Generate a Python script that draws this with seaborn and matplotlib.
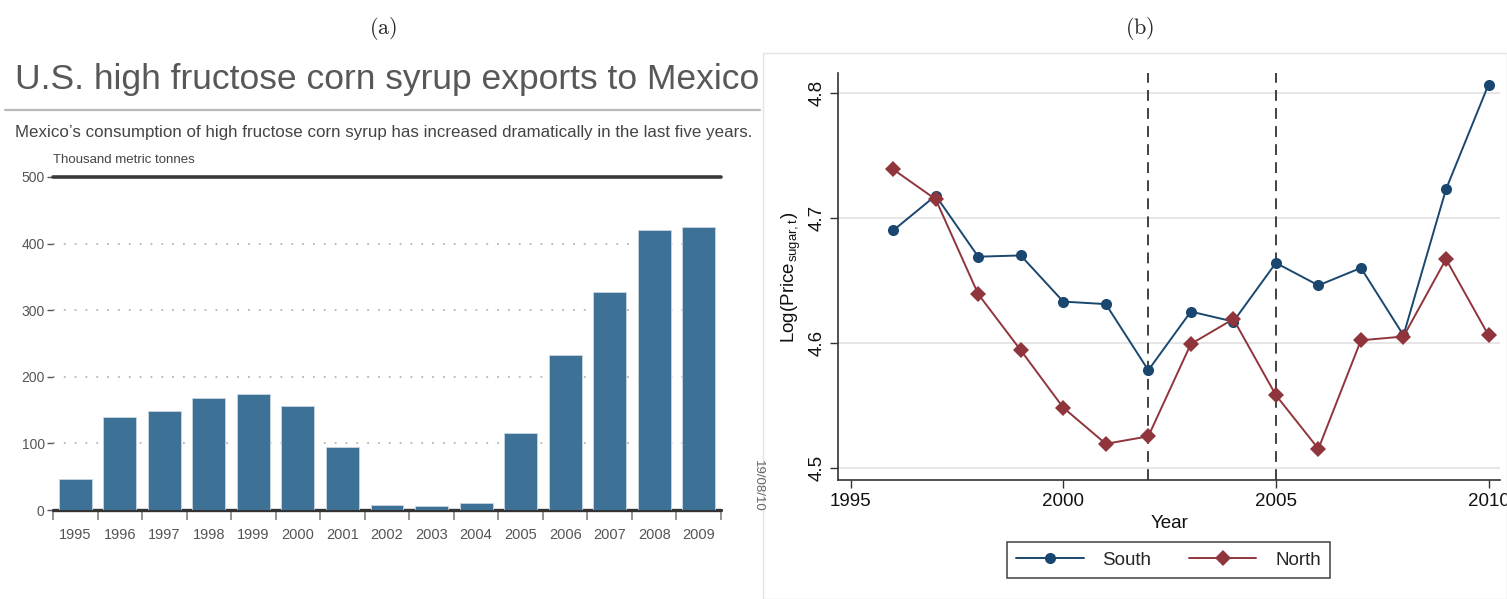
import matplotlib
matplotlib.use("Agg")
import matplotlib.pyplot as plt
import seaborn as sns
import pandas as pd
from matplotlib.patches import Rectangle

# ---- data -------------------------------------------------------------
export_years = ["1995", "1996", "1997", "1998", "1999", "2000", "2001", "2002",
                "2003", "2004", "2005", "2006", "2007", "2008", "2009"]
hfcs_exports = [46, 140, 148, 168, 174, 156, 95, 8, 6, 10, 116, 233, 328, 421, 425]
export_yticks = [0, 100, 200, 300, 400, 500]

price_years = list(range(1996, 2011))
south_price = [4.690, 4.718, 4.669, 4.670, 4.633, 4.631, 4.578, 4.625, 4.617,
               4.664, 4.646, 4.660, 4.606, 4.723, 4.807]
north_price = [4.739, 4.715, 4.639, 4.594, 4.548, 4.519, 4.525, 4.599, 4.619,
               4.558, 4.515, 4.602, 4.605, 4.667, 4.606]
event_years = [2002, 2005]
price_xticks = [1995, 2000, 2005, 2010]
price_yticks = [4.5, 4.6, 4.7, 4.8]

# ---- style ------------------------------------------------------------
sns.set_theme(style="white")
plt.rcParams["font.family"] = ["Liberation Sans", "DejaVu Sans"]
plt.rcParams["mathtext.fontset"] = "cm"

W, H = 1507, 599
fig = plt.figure(figsize=(W / 100, H / 100), dpi=100)


def fx(px):
    return px / W


def fy(py):
    return 1 - py / H


sans = ["Liberation Sans", "DejaVu Sans"]
grey_txt = "#555555"

# ---- panel (a): bar chart ----------------------------------------------
ax1 = fig.add_axes([fx(53), fy(510), fx(721) - fx(53), fy(177) - fy(510)])
bars = pd.DataFrame({"year": export_years, "exports": hfcs_exports})
sns.barplot(data=bars, x="year", y="exports", color="#3d7195", saturation=1,
            width=0.74, edgecolor="#c9d6e0", linewidth=0.6, ax=ax1, zorder=2)
ax1.set_xlim(-0.5, len(export_years) - 0.5)
ax1.set_ylim(0, 500)
ax1.set_xlabel("")
ax1.set_ylabel("")
for s in ax1.spines.values():
    s.set_visible(False)

# dotted gridlines, heavy rule at the top, baseline at zero
for v in export_yticks[1:-1]:
    ax1.axhline(v, color="#b5b5b5", lw=1.3, ls=(0, (1, 5)), zorder=0)
ax1.axhline(500, color="#3a3a3a", lw=2.6, zorder=3, clip_on=False)
ax1.axhline(0, color="#333333", lw=2.4, zorder=1, clip_on=False)

ax1.set_yticks(export_yticks)
ax1.set_yticklabels([str(v) for v in export_yticks], family=sans,
                    fontsize=10, color=grey_txt)
ax1.tick_params(axis="y", length=4, width=1, color="#555555", pad=2, left=True)
ax1.set_xticks(range(len(export_years)))
ax1.set_xticklabels(export_years, family=sans, fontsize=10.5, color=grey_txt)
ax1.set_xticks([i - 0.5 for i in range(len(export_years) + 1)], minor=True)
ax1.tick_params(axis="x", which="major", length=0, pad=13)
ax1.tick_params(axis="x", which="minor", length=7, width=1.1,
                color="#777777", bottom=True, direction="out")

fig.text(fx(15), fy(80), "U.S. high fructose corn syrup exports to Mexico",
         family=sans, fontsize=25.5, color="#585858", va="center", ha="left")
fig.add_artist(plt.Line2D([fx(5), fx(760)], [fy(110), fy(110)],
                          color="#b8b8b8", lw=1.6))
fig.text(fx(15), fy(132),
         "Mexico\u2019s consumption of high fructose corn syrup has increased "
         "dramatically in the last five years.",
         family=sans, fontsize=12.2, color="#444444", va="center", ha="left")
fig.text(fx(53), fy(160), "Thousand metric tonnes", family=sans,
         fontsize=9.5, color="#444444", va="center", ha="left")
fig.text(fx(758), fy(486), "19/08/10", family=sans, fontsize=9.5,
         color="#666666", rotation=270, va="center", ha="center")

# ---- panel (b): line chart ---------------------------------------------
fig.add_artist(Rectangle((fx(763), fy(599)), fx(1507) - fx(763),
                         fy(53) - fy(599), fill=False, ec="#e4e4e4", lw=1))

ax2 = fig.add_axes([fx(838.3), fy(480), fx(1500) - fx(838.3), fy(73.3) - fy(480)])
prices = pd.DataFrame({
    "Year": price_years * 2,
    "Price": south_price + north_price,
    "Region": ["South"] * len(price_years) + ["North"] * len(price_years),
})
palette = {"South": "#1a476f", "North": "#90353b"}
for v in price_yticks:
    ax2.axhline(v, color="#e6e6e6", lw=1.4, zorder=0)
for yr in event_years:
    ax2.axvline(yr, color="#333333", lw=1.3, ls=(0, (6, 4)), zorder=1)
sns.lineplot(data=prices, x="Year", y="Price", hue="Region", style="Region",
             palette=palette, markers={"South": "o", "North": "D"},
             dashes=False, markersize=8, markeredgewidth=0, lw=1.4,
             ax=ax2, zorder=3)
ax2.set_xlim(1994.71, 2010.27)
ax2.set_ylim(4.490, 4.816)
ax2.set_xticks(price_xticks)
ax2.set_yticks(price_yticks)
ax2.set_yticklabels([f"{v:.1f}" for v in price_yticks], rotation=90,
                    va="center")
ax2.tick_params(axis="both", labelsize=13.5, colors="#111111", length=6,
                width=1, color="#333333", left=True, bottom=True, pad=3)
ax2.set_xlabel("Year", fontsize=13.5, labelpad=4, color="#111111")
ax2.set_ylabel(r"Log(Price$_{\mathregular{sugar,t}}$)", fontsize=13.5,
               labelpad=4, color="#111111")
ax2.spines["top"].set_visible(False)
ax2.spines["right"].set_visible(False)
for s in ("left", "bottom"):
    ax2.spines[s].set_color("#333333")
    ax2.spines[s].set_linewidth(1.2)

handles, labels = ax2.get_legend_handles_labels()
leg = ax2.legend(handles, labels, loc="center", ncol=2,
                 bbox_to_anchor=((fx(1168.5) - fx(838.3)) / (fx(1500) - fx(838.3)),
                                 (fy(560) - fy(480)) / (fy(73.3) - fy(480))),
                 frameon=True, fancybox=False, fontsize=13.5, handlelength=3.6,
                 columnspacing=2.0, handletextpad=1.0, borderpad=0.5)
leg.get_frame().set_edgecolor("#111111")
leg.get_frame().set_linewidth(1.1)

# ---- panel labels --------------------------------------------------------
fig.text(fx(383), fy(28), r"$\mathrm{(a)}$", fontsize=16, ha="center", va="center")
fig.text(fx(1140), fy(28), r"$\mathrm{(b)}$", fontsize=16, ha="center", va="center")

fig.savefig("out.png", dpi=100)
